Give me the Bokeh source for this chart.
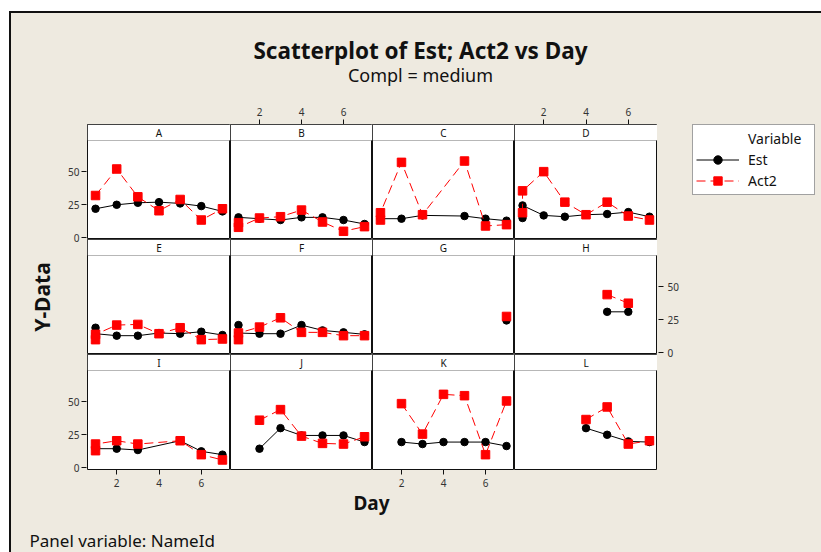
from bokeh.plotting import figure
from bokeh.layouts import gridplot, column, row
from bokeh.models import (Range1d, BoxAnnotation, Label, LinearAxis, FixedTicker,
                          Legend, LegendItem, CustomJSTickFormatter)
from bokeh.embed import file_html
from bokeh.resources import INLINE

# ---------------- data ----------------
PANELS = ["A", "B", "C", "D", "E", "F", "G", "H", "I", "J", "K", "L"]

DAY_A = [1, 2, 3, 4, 5, 6, 7]
EST_A = [22, 25, 26.5, 27, 26, 24, 20]
ACT2_A = [32, 52, 31, 20.5, 29, 13.5, 22]

DAY_B = [1, 1, 2, 3, 4, 5, 6, 7]
EST_B = [15.5, None, 14.5, 13.5, 15.5, 15.5, 13.5, 10.5]
ACT2_B = [11.5, 8, 15, 16, 21, 12, 5, 8.5]

DAY_C = [1, 1, 2, 3, 4, 5, 6, 7]
EST_C = [14.5, None, 14.5, 17, None, 16.5, 14.5, 13]
ACT2_C = [13.5, 19, 57, 17.5, None, 58, 9, 10]

DAY_D = [1, 1, 2, 3, 4, 5, 6, 7]
EST_D = [15, 24.5, 17, 16, 17.5, 18, 19.5, 16]
ACT2_D = [19, 35.5, 50, 27, 17.5, 27, 16.5, 13.5]

DAY_E = [1, 1, 2, 3, 4, 5, 6, 7]
EST_E = [19, 14.5, 13, 13, 15, 14.5, 16, 13.5]
ACT2_E = [10, 14, 21, 21.5, 14.5, 19, 10, 10.5]

DAY_F = [1, 1, 2, 3, 4, 5, 6, 7]
EST_F = [21, 15, 14.5, 14.5, 21, 17, 15.5, 14]
ACT2_F = [10, 15, 19.5, 26.5, 15.5, 15.5, 13, 13]

DAY_G = [7]
EST_G = [24.5]
ACT2_G = [27.5]

DAY_H = [5, 6]
EST_H = [31, 31]
ACT2_H = [44, 37.5]

DAY_I = [1, 1, 2, 3, 4, 5, 6, 7]
EST_I = [14.5, None, 14.5, 13.5, None, 20.5, 12.5, 10]
ACT2_I = [13, 18, 20.5, 18, None, 20.5, 10, 6]

DAY_J = [2, 3, 4, 5, 6, 7]
EST_J = [14.5, 30, 24.5, 24.5, 24.5, 19.5]
ACT2_J = [36, 44, 24, 18.5, 18, 23.5]

DAY_K = [2, 3, 4, 5, 6, 7]
EST_K = [19.5, 18, 19.5, 19.5, 19.5, 16.5]
ACT2_K = [48.5, 25.5, 55.5, 54.5, 10, 50.5]

DAY_L = [4, 5, 6, 7]
EST_L = [30, 25, 20, 19.5]
ACT2_L = [36.5, 46, 18, 20.5]

Y_TICKS = [0, 25, 50]
X_TICKS = [2, 4, 6]

TITLE = "Scatterplot of Est; Act2 vs Day"
SUBTITLE = "Compl = medium"
X_LABEL = "Day"
Y_LABEL = "Y-Data"
PANEL_NOTE = "Panel variable: NameId"
LEGEND_TITLE = "Variable"
SERIES = ["Est", "Act2"]

DATA = [
    (DAY_A, EST_A, ACT2_A), (DAY_B, EST_B, ACT2_B), (DAY_C, EST_C, ACT2_C), (DAY_D, EST_D, ACT2_D),
    (DAY_E, EST_E, ACT2_E), (DAY_F, EST_F, ACT2_F), (DAY_G, EST_G, ACT2_G), (DAY_H, EST_H, ACT2_H),
    (DAY_I, EST_I, ACT2_I), (DAY_J, EST_J, ACT2_J), (DAY_K, EST_K, ACT2_K), (DAY_L, EST_L, ACT2_L),
]

# ---------------- styling / layout ----------------
FONT = "Noto Sans"
BG = "#EEEAE0"
EDGE = "#111111"
TXT = "#111111"
TICK_TXT = "#333333"

X_LO, X_HI = 0.62, 7.38
Y_LO, Y_HI = -1.2, 73.5
STRIP_PX, PLOT_PX = 16, 99
Y_TOP = Y_HI + STRIP_PX * (Y_HI - Y_LO) / PLOT_PX
SPAN = Y_TOP - Y_LO            # data height of one panel row (strip included)

FRAME_W = [143, 142, 142, 143]
FRAME_H = STRIP_PX + PLOT_PX
LEFT_W, RAXIS_W = 76, 30
B_TOP, B_BOTTOM = 26, 21
TOTAL_W = 810
TOTAL_H = 539
LEGEND_W = TOTAL_W - LEFT_W - sum(FRAME_W) - RAXIS_W
GRID_H = B_TOP + 3 * FRAME_H + B_BOTTOM
HEADER_H = 85
FOOTER_H = TOTAL_H - HEADER_H - GRID_H


def clean(days, vals):
    pts = [(d, v) for d, v in zip(days, vals) if v is not None]
    return [p[0] for p in pts], [p[1] for p in pts]


def style_axis(ax, standoff=4):
    ax.axis_line_color = None
    ax.major_tick_in = 0
    ax.major_tick_out = 5
    ax.major_tick_line_color = EDGE
    ax.minor_tick_line_color = None
    ax.major_label_text_font = FONT
    ax.major_label_text_font_size = "10px"
    ax.major_label_text_color = TICK_TXT
    ax.major_label_standoff = standoff
    return ax


def blank_fig(w, h, **kw):
    f = figure(width=w, height=h, x_range=Range1d(0, 1), y_range=kw.pop("y_range", Range1d(0, 1)),
               x_axis_location=None, y_axis_location=None, toolbar_location=None,
               output_backend="svg", min_border=0, **kw)
    f.background_fill_color = BG
    f.border_fill_color = BG
    f.outline_line_color = None
    f.xgrid.visible = False
    f.ygrid.visible = False
    return f


figs = []
for idx, name in enumerate(PANELS):
    r, c = divmod(idx, 4)
    bt = B_TOP if r == 0 else 0
    bb = B_BOTTOM if r == 2 else 0
    p = figure(width=FRAME_W[c], height=FRAME_H + bt + bb,
               x_range=Range1d(X_LO, X_HI), y_range=Range1d(Y_LO, Y_TOP),
               x_axis_location=None, y_axis_location=None,
               toolbar_location=None, output_backend="svg",
               min_border=0, min_border_top=bt, min_border_bottom=bb)
    p.background_fill_color = "white"
    p.border_fill_color = BG
    p.outline_line_color = EDGE
    p.outline_line_width = 1
    p.xgrid.visible = False
    p.ygrid.visible = False

    # strip header
    p.add_layout(BoxAnnotation(bottom=Y_HI, fill_color="white", fill_alpha=1.0,
                               line_color=EDGE, line_width=1))
    p.add_layout(Label(x=(X_LO + X_HI) / 2, y=(Y_HI + Y_TOP) / 2, text=name,
                       text_align="center", text_baseline="middle",
                       text_font=FONT, text_font_size="10px", text_color=TXT))

    days, est, act = DATA[idx]
    de, ve = clean(days, est)
    da, va = clean(days, act)
    p.line(de, ve, line_color="black", line_width=1)
    p.scatter(de, ve, marker="circle", size=7.5, fill_color="black", line_color="black")
    p.line(da, va, line_color="red", line_width=1, line_dash="9 5")
    p.scatter(da, va, marker="square", size=8.5, fill_color="red", line_color="red")

    if r == 0 and c in (1, 3):
        p.add_layout(style_axis(LinearAxis(ticker=FixedTicker(ticks=X_TICKS))), "above")
    if r == 2 and c in (0, 2):
        p.add_layout(style_axis(LinearAxis(ticker=FixedTicker(ticks=X_TICKS))), "below")
    figs.append(p)

grid = gridplot([figs[0:4], figs[4:8], figs[8:12]], toolbar_location=None)

# y-axes of the panel rows (row 0 on top); one shared scale stacks the three rows
stack_range = Range1d(Y_LO, Y_LO + 3 * SPAN)
row_fmt = CustomJSTickFormatter(args=dict(S=SPAN),
                                code="return String(Math.round(tick - S*Math.round((tick - 25)/S)));")


def row_ticks(rows):
    return [v + (2 - rr) * SPAN for rr in rows for v in Y_TICKS]


left = blank_fig(LEFT_W, GRID_H, y_range=stack_range,
                 min_border_left=LEFT_W - 1, min_border_top=B_TOP, min_border_bottom=B_BOTTOM)
lax = style_axis(LinearAxis(ticker=FixedTicker(ticks=row_ticks([0, 2])), formatter=row_fmt), standoff=2)
lax.axis_label = Y_LABEL
lax.axis_label_text_font = FONT
lax.axis_label_text_font_style = "bold"
lax.axis_label_text_font_size = "21px"
lax.axis_label_text_color = TXT
lax.axis_label_standoff = 9
left.add_layout(lax, "left")

right = blank_fig(RAXIS_W, GRID_H, y_range=stack_range,
                  min_border_right=RAXIS_W - 1, min_border_top=B_TOP, min_border_bottom=B_BOTTOM)
rax = style_axis(LinearAxis(ticker=FixedTicker(ticks=row_ticks([1])), formatter=row_fmt), standoff=4)
right.add_layout(rax, "right")

# legend panel: sample glyphs sit outside the visible range, only their legend swatches show
lg = blank_fig(LEGEND_W, GRID_H, min_border_top=25, min_border_left=5)
OFF = [5, 6]
dummy = lg.line(x=OFF, y=OFF, line_color="white", line_width=1)
le_l = lg.line(x=OFF, y=OFF, line_color="black", line_width=1)
le_s = lg.scatter(x=OFF, y=OFF, marker="circle", size=7.5, fill_color="black", line_color="black")
la_l = lg.line(x=OFF, y=OFF, line_color="red", line_width=1, line_dash="9 5")
la_s = lg.scatter(x=OFF, y=OFF, marker="square", size=8.5, fill_color="red", line_color="red")
legend = Legend(items=[LegendItem(label=LEGEND_TITLE, renderers=[dummy]),
                       LegendItem(label=SERIES[0], renderers=[le_l, le_s]),
                       LegendItem(label=SERIES[1], renderers=[la_l, la_s])],
                location="top_left", orientation="vertical",
                background_fill_color="white", background_fill_alpha=1.0,
                border_line_color="#444444", border_line_width=1,
                label_text_font=FONT, label_text_font_size="14px", label_text_color=TXT,
                glyph_width=43, glyph_height=21, label_height=21, label_width=63,
                label_standoff=9, spacing=0, padding=3, margin=0)
lg.add_layout(legend)

header = blank_fig(TOTAL_W, HEADER_H)
header.add_layout(Label(x=409, y=47.8, x_units="screen", y_units="screen", text=TITLE,
                        text_align="center", text_baseline="middle", text_font=FONT,
                        text_font_style="bold", text_font_size="22.5px", text_color=TXT))
header.add_layout(Label(x=409, y=23.5, x_units="screen", y_units="screen", text=SUBTITLE,
                        text_align="center", text_baseline="middle", text_font=FONT,
                        text_font_size="18px", text_color=TXT))

footer = blank_fig(TOTAL_W, FOOTER_H)
footer.add_layout(Label(x=360, y=FOOTER_H - 12, x_units="screen", y_units="screen", text=X_LABEL,
                        text_align="center", text_baseline="middle", text_font=FONT,
                        text_font_style="bold", text_font_size="19px", text_color=TXT))
footer.add_layout(Label(x=18, y=12, x_units="screen", y_units="screen", text=PANEL_NOTE,
                        text_align="left", text_baseline="middle", text_font=FONT,
                        text_font_size="17px", text_color=TXT))

layout = column(header, row(left, grid, right, lg), footer,
                styles={"border-left": "2px solid #111", "border-top": "2px solid #111",
                        "margin-left": "9px", "margin-top": "11px",
                        "background-color": BG})

open("out.html", "w").write(file_html(layout, INLINE))
